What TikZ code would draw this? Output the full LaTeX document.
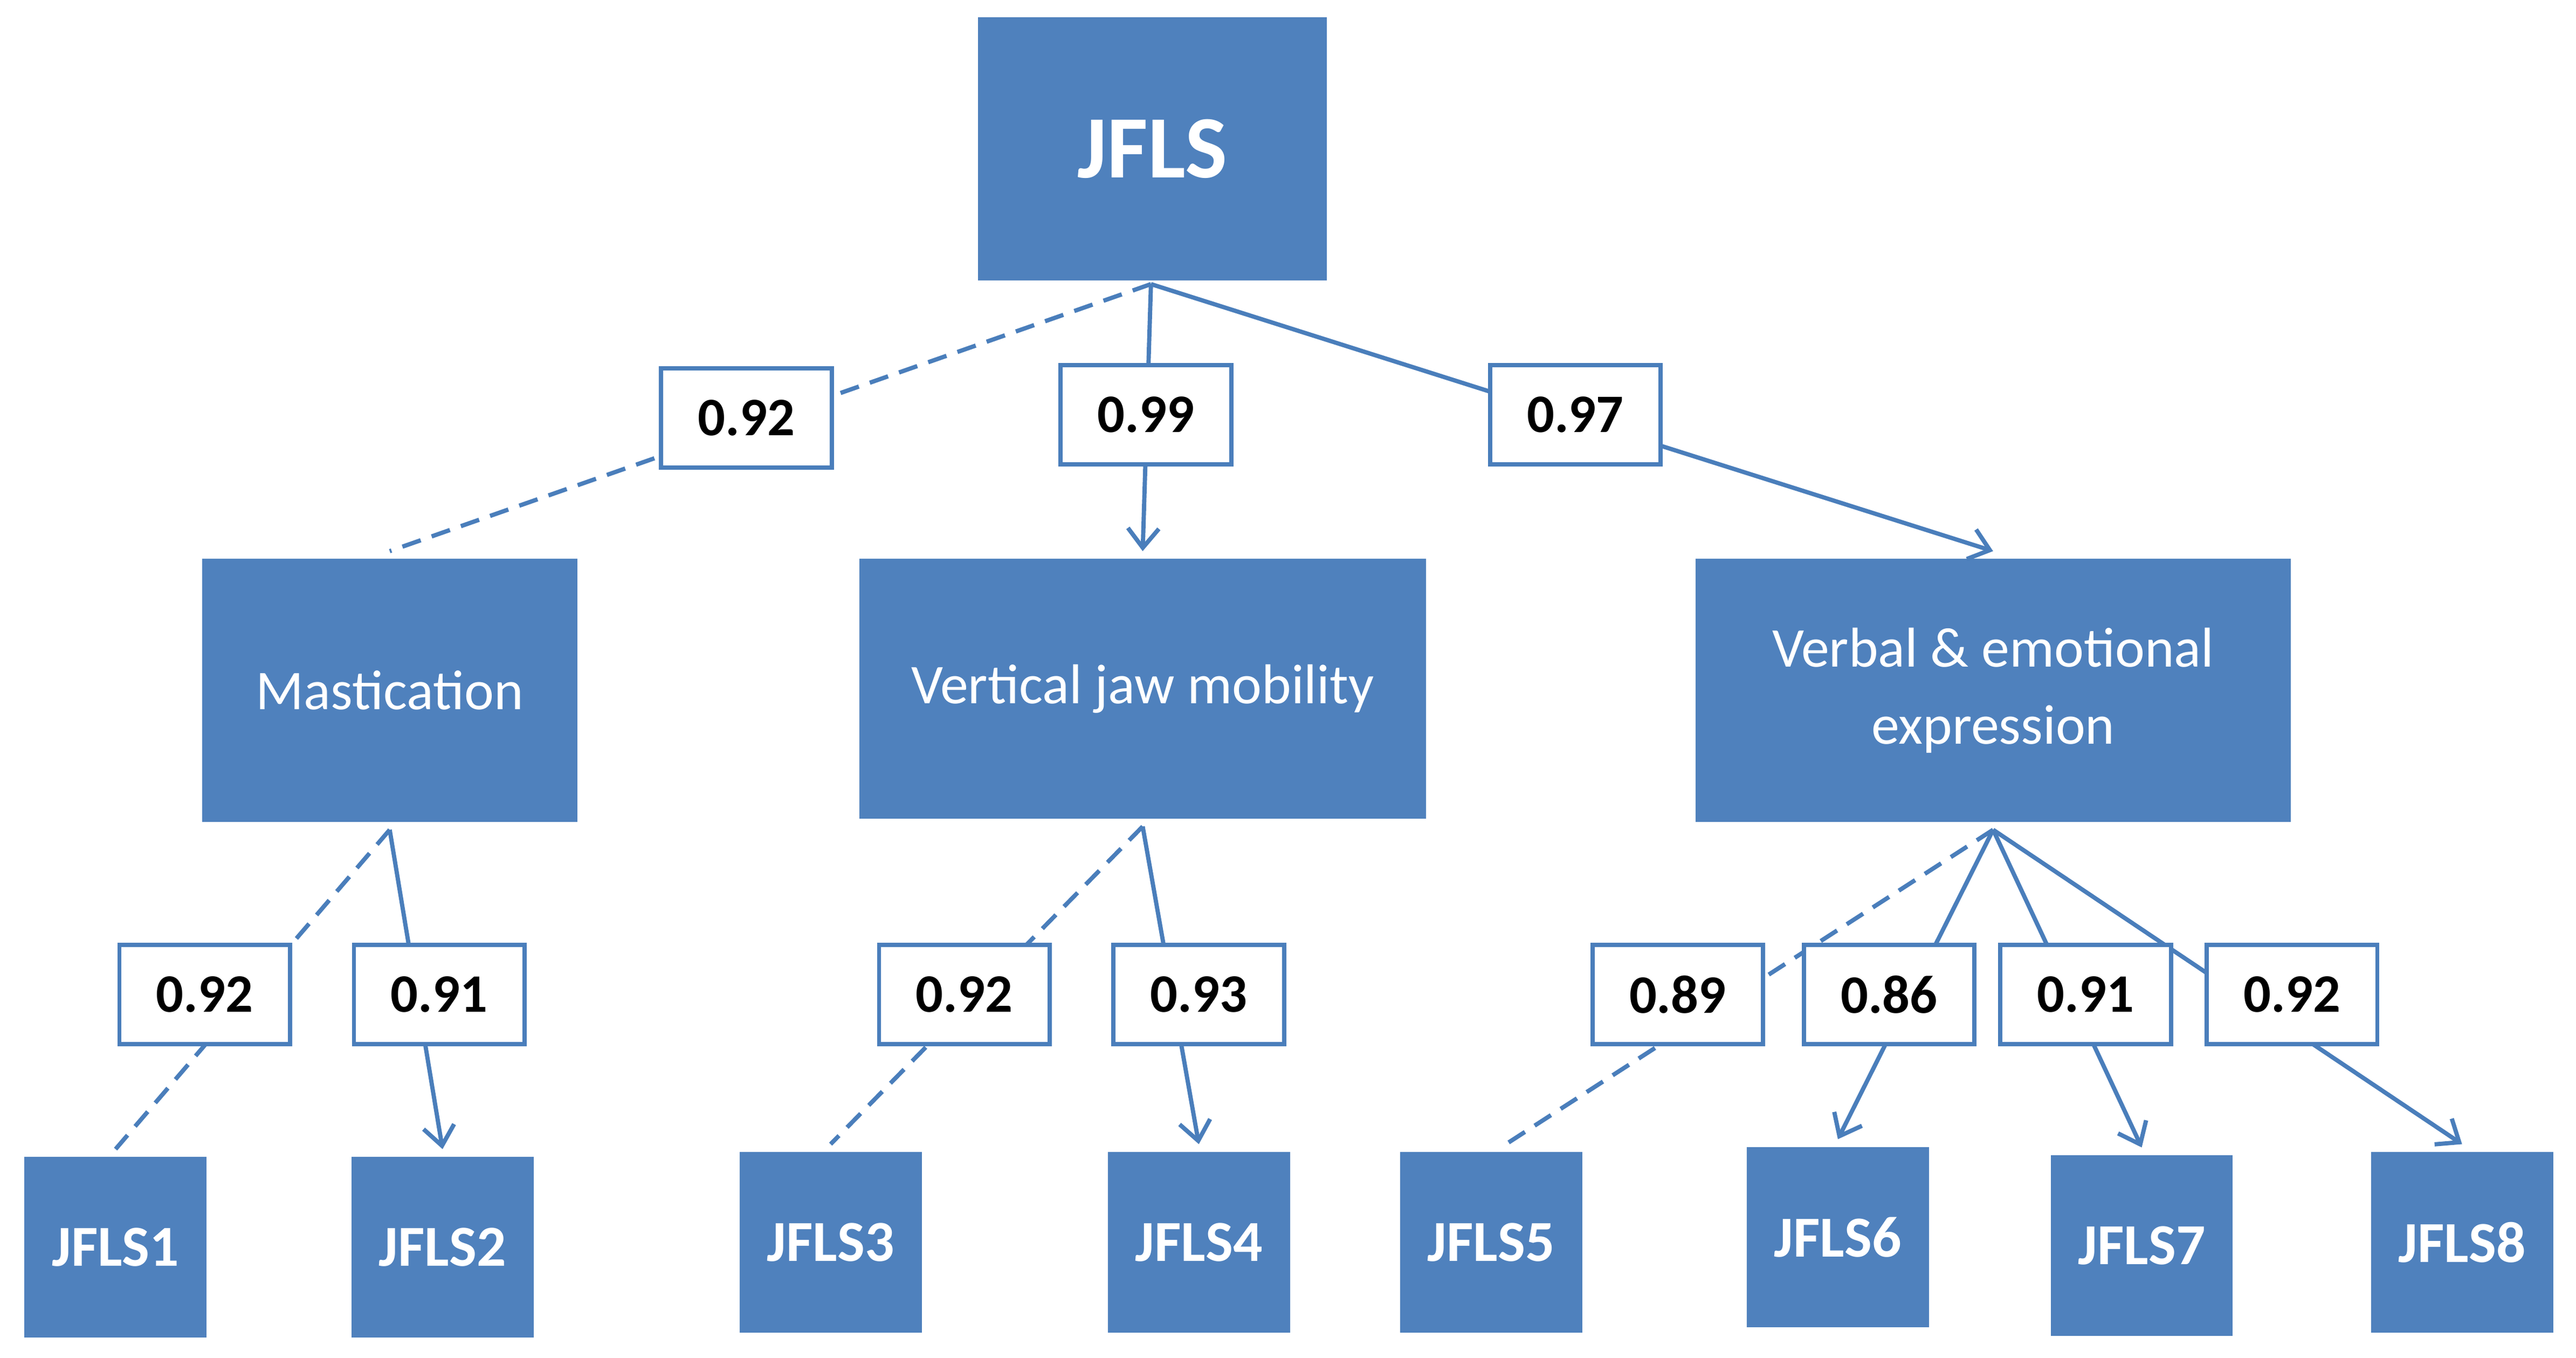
\documentclass[tikz,border=0pt]{standalone}
\usepackage{fontspec}
\setmainfont{Carlito}
\usetikzlibrary{shadows,arrows.meta}
\definecolor{bl}{HTML}{4F81BD}
\definecolor{ln}{HTML}{4A7EBB}
\begin{document}
\begin{tikzpicture}[x=0.03cm,y=-0.03cm,
 box/.style={fill=bl,draw=white,line width=4pt,text=white,align=center,inner sep=0pt,
   drop shadow={shadow xshift=1.5pt,shadow yshift=-1.5pt,opacity=0.35}},
 lab/.style={fill=white,draw=ln,line width=2.2pt,minimum width=3.1cm,minimum height=1.8cm,inner sep=0pt,font=\fontsize{28}{30}\selectfont\bfseries},
 con/.style={ln,line width=2.2pt},
 arr/.style={con,-{Straight Barb[length=10pt,width=16pt]}},
 das/.style={con,dash pattern=on 10pt off 6pt}]
\useasboundingbox (0,0) rectangle (1560,822);
\newcommand\bx[6]{\node[box,minimum width={(#4-#2)*0.03cm},minimum height={(#5-#3)*0.03cm},font=#6] (#1) at ({(#2+#4)/2},{(#3+#5)/2}) {#1};}
\node[box,minimum width=6.48cm,minimum height=4.92cm,font=\fontsize{46}{50}\selectfont\bfseries] (J) at (698,90) {JFLS};
\node[box,minimum width=6.96cm,minimum height=4.92cm,font=\fontsize{29}{34}\selectfont] (M) at (236,418) {Mastication};
\node[box,minimum width=10.44cm,minimum height=4.86cm,font=\fontsize{29}{34}\selectfont] (V) at (692,417) {Vertical jaw mobility};
\node[box,minimum width=10.95cm,minimum height=4.92cm,font=\fontsize{29}{40}\selectfont] (E) at (1207,418) {Verbal \& emotional\\expression};
\tikzset{sb/.style={box,minimum width=3.45cm,minimum height=3.42cm,font=\fontsize{30}{32}\selectfont\bfseries}}
\node[sb] (J1) at (70,755) {JFLS1};
\node[sb] (J2) at (268,755) {JFLS2};
\node[sb] (J3) at (503,752) {JFLS3};
\node[sb] (J4) at (726,752) {JFLS4};
\node[sb] (J5) at (903,752) {JFLS5};
\node[sb] (J6) at (1113,749) {JFLS6};
\node[sb] (J7) at (1297,754) {JFLS7};
\node[sb] (J8) at (1491,752) {JFLS8};
\coordinate (Jb) at (697,172);
\draw[das] (Jb) -- (M.north);
\draw[arr] (Jb) -- (V.north);
\draw[arr] (Jb) -- (E.north);
\draw[das] (M.south) -- (J1.north);
\draw[arr] (M.south) -- (J2.north);
\draw[das] (V.south) -- (J3.north);
\draw[arr] (V.south) -- (J4.north);
\draw[das] (E.south) -- ([xshift=0.27cm]J5.north);
\draw[arr] (E.south) -- (J6.north);
\draw[arr] (E.south) -- (J7.north);
\draw[arr] (E.south) -- (J8.north);
\node[lab] (a) at (452,253) {0.92};
\node[lab] (b) at (694,251) {0.99};
\node[lab] (c) at (954,251) {0.97};
\node[lab] (d) at (124,602) {0.92};
\node[lab] (e) at (266,602) {0.91};
\node[lab] (f) at (584,602) {0.92};
\node[lab] (g) at (726,602) {0.93};
\node[lab] (h) at (1016,602) {0.89};
\node[lab] (i) at (1144,602) {0.86};
\node[lab] (k) at (1263,602) {0.91};
\node[lab] (l) at (1388,602) {0.92};
\end{tikzpicture}
\end{document}
